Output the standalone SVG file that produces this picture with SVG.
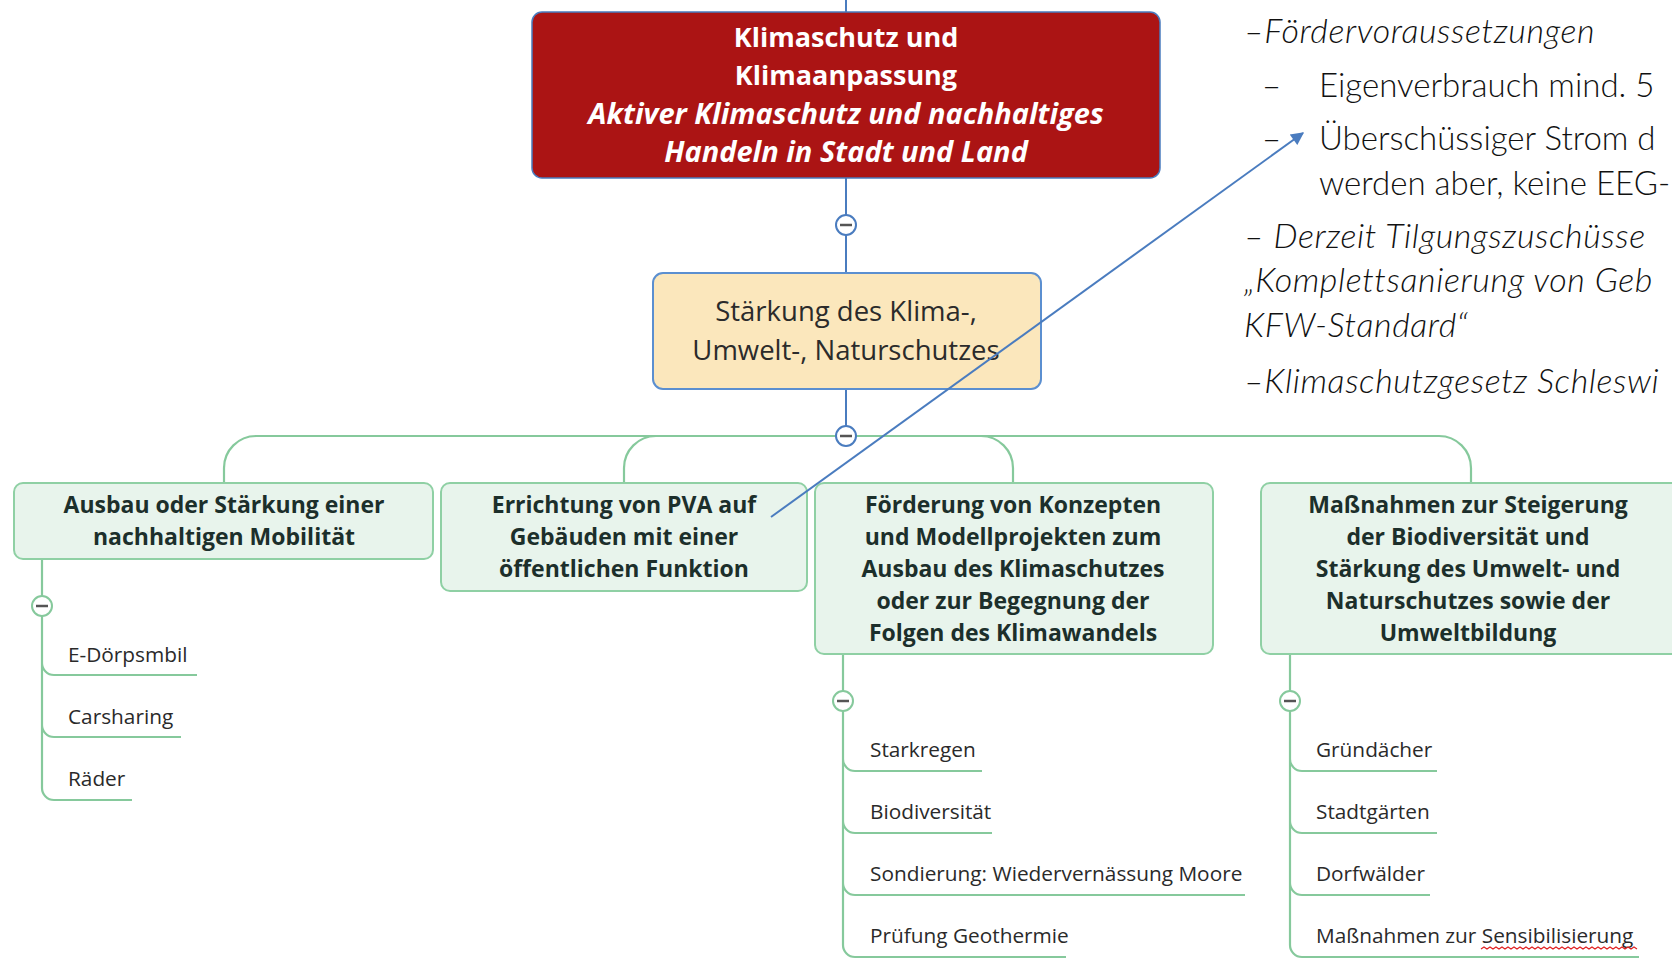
<svg xmlns="http://www.w3.org/2000/svg" width="1672" height="960" viewBox="0 0 1672 960">
<defs>
<style>
.blue{stroke:#4a7cbf;stroke-width:2;fill:none}
.green{stroke:#86c99c;stroke-width:2.2;fill:none}
.gbox{fill:#e8f4ec;stroke:#8fd0a4;stroke-width:2}
.gt{font-family:"Open Sans","Liberation Sans",sans-serif;font-weight:bold;font-size:23px;fill:#1c2f2b;text-anchor:middle}
.it{font-family:"Open Sans","Liberation Sans",sans-serif;font-size:20.8px;fill:#2a2a2a}
.rt{font-family:"Open Sans","Liberation Sans",sans-serif;font-weight:bold;font-size:27px;fill:#ffffff;text-anchor:middle}
.rti{font-size:29px;font-style:italic}
.side{font-family:Lato,"Liberation Sans",sans-serif;font-weight:300;fill:#111;font-size:34px;letter-spacing:0.6px}
.up{font-size:33px;letter-spacing:0px}
.sidei{font-style:italic}
.minus{stroke:#555;stroke-width:2.5}
</style>
<marker id="arr" viewBox="0 0 10 10" refX="9" refY="5" markerWidth="15" markerHeight="13" markerUnits="userSpaceOnUse" orient="auto">
<path d="M0,0 L10,5 L0,10 z" fill="#4a7cbf"/>
</marker>
</defs>
<rect width="1672" height="960" fill="#ffffff"/>

<g id="connectors">
<line class="blue" x1="846" y1="0" x2="846" y2="12"/>
<line class="blue" x1="846" y1="178" x2="846" y2="273"/>
<line class="blue" x1="846" y1="389" x2="846" y2="436"/>
<path class="green" d="M224,483 V468 A32,32 0 0 1 256,436 H1439 A32,32 0 0 1 1471,468 V483"/>
<path class="green" d="M656,436 A32,32 0 0 0 624,468 V483"/>
<path class="green" d="M981,436 A32,32 0 0 1 1013,468 V483"/>
<path class="green" d="M42,559 V788 A12,12 0 0 0 54,800 H132 M42,663 A12,12 0 0 0 54,675 H197 M42,725 A12,12 0 0 0 54,737 H181"/>
<path class="green" d="M843,654 V945 A12,12 0 0 0 855,957 H1066 M843,759 A12,12 0 0 0 855,771 H982 M843,821 A12,12 0 0 0 855,833 H992 M843,883 A12,12 0 0 0 855,895 H1245"/>
<path class="green" d="M1290,654 V945 A12,12 0 0 0 1302,957 H1639 M1290,759 A12,12 0 0 0 1302,771 H1437 M1290,821 A12,12 0 0 0 1302,833 H1437 M1290,883 A12,12 0 0 0 1302,895 H1430"/>
<g id="toggles">
<circle cx="846" cy="225" r="10" fill="#fff" stroke="#4a7cbf" stroke-width="2"/>
<line class="minus" x1="840" y1="225" x2="852" y2="225"/>
<circle cx="846" cy="436" r="10" fill="#fff" stroke="#4a7cbf" stroke-width="2"/>
<line class="minus" x1="840" y1="436" x2="852" y2="436"/>
<circle cx="42" cy="606" r="10" fill="#fff" stroke="#86c99c" stroke-width="2"/>
<line class="minus" x1="36" y1="606" x2="48" y2="606"/>
<circle cx="843" cy="701" r="10" fill="#fff" stroke="#86c99c" stroke-width="2"/>
<line class="minus" x1="837" y1="701" x2="849" y2="701"/>
<circle cx="1290" cy="701" r="10" fill="#fff" stroke="#86c99c" stroke-width="2"/>
<line class="minus" x1="1284" y1="701" x2="1296" y2="701"/>
</g>
</g>

<g id="root">
<rect x="532" y="12" width="628" height="166" rx="10" fill="#ab1414" stroke="#4a7cbf" stroke-width="1.5"/>
<text class="rt" x="846" y="47">Klimaschutz und</text>
<text class="rt" x="846" y="85">Klimaanpassung</text>
<text class="rt rti" x="846" y="124">Aktiver Klimaschutz und nachhaltiges</text>
<text class="rt rti" x="846" y="162">Handeln in Stadt und Land</text>
</g>

<g id="main">
<rect x="653" y="273" width="388" height="116" rx="10" fill="#fbe7bc" stroke="#5b8fd0" stroke-width="2"/>
<text x="846" y="321" font-family="Open Sans, Liberation Sans, sans-serif" font-size="27.5" fill="#2b2b2b" text-anchor="middle">Stärkung des Klima-,</text>
<text x="846" y="360" font-family="Open Sans, Liberation Sans, sans-serif" font-size="27.5" fill="#2b2b2b" text-anchor="middle">Umwelt-, Naturschutzes</text>
</g>

<g id="mobilitaet">
<rect class="gbox" x="14" y="483" width="419" height="76" rx="9"/>
<text class="gt" x="224" y="513">Ausbau oder Stärkung einer</text>
<text class="gt" x="224" y="545">nachhaltigen Mobilität</text>
</g>
<g id="pva">
<rect class="gbox" x="441" y="483" width="366" height="108" rx="9"/>
<text class="gt" x="624" y="513">Errichtung von PVA auf</text>
<text class="gt" x="624" y="545">Gebäuden mit einer</text>
<text class="gt" x="624" y="577">öffentlichen Funktion</text>
</g>
<g id="konzepte">
<rect class="gbox" x="815" y="483" width="398" height="171" rx="9"/>
<text class="gt" x="1013" y="513">Förderung von Konzepten</text>
<text class="gt" x="1013" y="545">und Modellprojekten zum</text>
<text class="gt" x="1013" y="577">Ausbau des Klimaschutzes</text>
<text class="gt" x="1013" y="609">oder zur Begegnung der</text>
<text class="gt" x="1013" y="641">Folgen des Klimawandels</text>
</g>
<g id="biodiversitaet">
<rect class="gbox" x="1261" y="483" width="420" height="171" rx="9"/>
<text class="gt" x="1468" y="513">Maßnahmen zur Steigerung</text>
<text class="gt" x="1468" y="545">der Biodiversität und</text>
<text class="gt" x="1468" y="577">Stärkung des Umwelt- und</text>
<text class="gt" x="1468" y="609">Naturschutzes sowie der</text>
<text class="gt" x="1468" y="641">Umweltbildung</text>
</g>

<g id="items-mobilitaet">
<text class="it" x="68" y="662">E-Dörpsmbil</text>
<text class="it" x="68" y="724">Carsharing</text>
<text class="it" x="68" y="786">Räder</text>
</g>
<g id="items-konzepte">
<text class="it" x="870" y="757">Starkregen</text>
<text class="it" x="870" y="819">Biodiversität</text>
<text class="it" x="870" y="881">Sondierung: Wiedervernässung Moore</text>
<text class="it" x="870" y="943">Prüfung Geothermie</text>
</g>
<g id="items-bio">
<text class="it" x="1316" y="757">Gründächer</text>
<text class="it" x="1316" y="819">Stadtgärten</text>
<text class="it" x="1316" y="881">Dorfwälder</text>
<text class="it" x="1316" y="943">Maßnahmen zur Sensibilisierung</text>
<path d="M1481,949 l3,-2 l3,2 l3,-2 l3,2 l3,-2 l3,2 l3,-2 l3,2 l3,-2 l3,2 l3,-2 l3,2 l3,-2 l3,2 l3,-2 l3,2 l3,-2 l3,2 l3,-2 l3,2 l3,-2 l3,2 l3,-2 l3,2 l3,-2 l3,2 l3,-2 l3,2 l3,-2 l3,2 l3,-2 l3,2 l3,-2 l3,2 l3,-2 l3,2 l3,-2 l3,2 l3,-2 l3,2 l3,-2 l3,2 l3,-2 l3,2 l3,-2 l3,2 l3,-2 l3,2 l3,-2 l3,2 l3,-2 l3,2" fill="none" stroke="#e02020" stroke-width="1.2"/>
</g>

<g id="notes">
<text class="side sidei" x="1244" y="43">–Fördervoraussetzungen</text>
<text class="side up" x="1262" y="97">–</text>
<text class="side up" x="1319" y="97">Eigenverbrauch mind. 5</text>
<text class="side up" x="1262" y="150">–</text>
<text class="side up" x="1319" y="150">Überschüssiger Strom d</text>
<text class="side up" x="1319" y="195">werden aber, keine EEG-</text>
<text class="side sidei" x="1244" y="248">– Derzeit Tilgungszuschüsse</text>
<text class="side sidei" x="1244" y="292">„Komplettsanierung von Geb</text>
<text class="side sidei" x="1244" y="337">KFW-Standard“</text>
<text class="side sidei" x="1244" y="393">–Klimaschutzgesetz Schleswi</text>
</g>

<g id="link">
<line x1="771" y1="517" x2="1303" y2="133" stroke="#4a7cbf" stroke-width="2" marker-end="url(#arr)"/>
</g>
</svg>
